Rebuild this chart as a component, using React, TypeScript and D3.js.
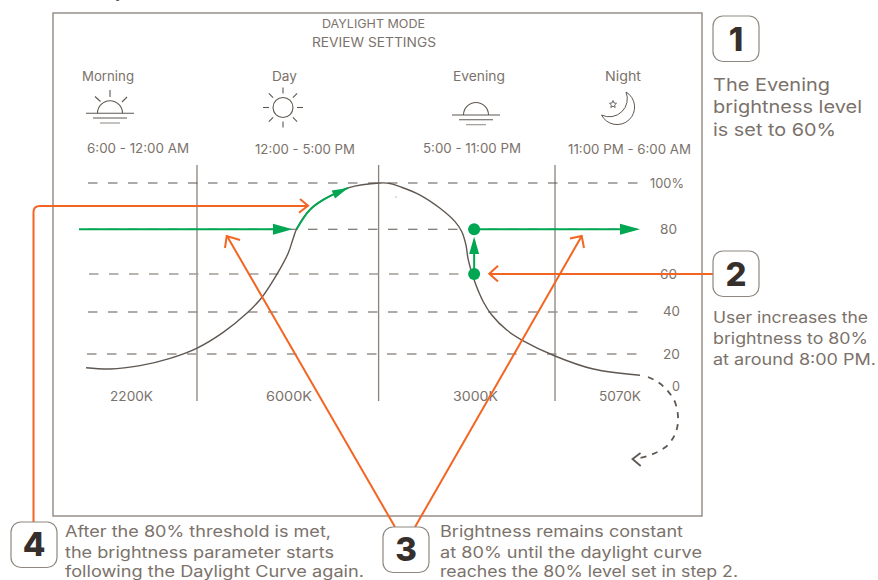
import React from "react";
import * as d3 from "d3";

// ---- data ----
const curveHours = [6.36, 7.58, 9.1, 10.63, 11.98, 12.72, 13.37, 13.78, 14.19, 14.51, 14.65, 14.74, 15.1, 15.47, 16.16, 17.05, 17.39, 17.73, 18.41, 19.09, 19.6, 19.83, 19.97, 20.05, 20.25, 20.56, 20.85, 21.36, 21.92, 23, 26.15, 30];
const curveLevels = [11.4, 10.6, 12.7, 17.3, 22.7, 30.3, 39.4, 47.5, 59.5, 69.3, 76, 80, 88.3, 92.7, 97.9, 100, 99.8, 98.4, 94.8, 89.1, 83.3, 78.9, 73, 66.3, 56.8, 45.4, 38.6, 31.4, 26.3, 18.75, 10.6, 6.7];
const followHours = [14.74, 15.1, 15.47, 16.16];
const followLevels = [80, 88.3, 92.7, 97.9];
const gridLevels = [100, 80, 60, 40, 20];
const tickLabels = ["100%", "80", "60", "40", "20", "0"];
const periodNames = ["Morning", "Day", "Evening", "Night"];
const periodTimes = ["6:00 - 12:00 AM", "12:00 - 5:00 PM", "5:00 - 11:00 PM", "11:00 PM - 6:00 AM"];
const kelvinLabels = ["2200K", "6000K", "3000K", "5070K"];
const periodBoundaries = [12, 17, 23];
const stepOneLines = ["The Evening", "brightness level", "is set to 60%"];
const stepTwoLines = ["User increases the", "brightness to 80%", "at around 8:00 PM."];
const stepThreeLines = ["Brightness remains constant", "at 80% until the daylight curve", "reaches the 80% level set in step 2."];
const stepFourLines = ["After the 80% threshold is met,", "the brightness parameter starts", "following the Daylight Curve again."];

// ---- scales (both axes are unevenly spaced in the reference) ----
const x = d3.scaleLinear().domain([6, 12, 17, 23, 30]).range([79, 197, 378.6, 555, 640]);
const y = d3.scaleLinear().domain([0, 20, 40, 60, 80, 100]).range([386, 354, 312, 274, 229.3, 183]);
const line = d3.line<number>()
  .x((h) => x(h))
  .y((_, i) => y(curveLevels[i]))
  .curve(d3.curveCatmullRom.alpha(0.5));
const followLine = d3.line<number>()
  .x((h) => x(h))
  .y((_, i) => y(followLevels[i]))
  .curve(d3.curveCatmullRom.alpha(0.5));

const INK = "#5f5750";
const TEXT = "#7b726b";
const DARK = "#362f2b";
const FRAME = "#8f8880";
const ORANGE = "#f26522";
const GREEN = "#00a651";
const FONT = "Inter, 'Open Sans', sans-serif";

function T({ x, y, w, s, children, anchor = "start", fill = TEXT, weight = 400 }: any) {
  return (
    <text x={x} y={y} fontSize={s} fill={fill} fontWeight={weight} fontFamily={FONT} textAnchor={anchor}
      textLength={w} lengthAdjust={w ? "spacingAndGlyphs" : undefined}>
      {children}
    </text>
  );
}

function Badge({ x, y, n, by }: any) {
  return (
    <g>
      <rect x={x} y={y} width={46} height={45.5} rx={10} fill="#fff" stroke={FRAME} strokeWidth={1.2} />
      <text x={x + 23} y={by} textAnchor="middle" fontSize={33} fontWeight={800} fill={DARK} fontFamily={FONT}>{n}</text>
    </g>
  );
}

function Horizon({ cx, hy }: any) {
  return (
    <g fill="none" stroke={INK} strokeWidth={1.1}>
      <path d={`M${cx - 12.5},${hy} A12.5,12.5 0 0 1 ${cx + 12.5},${hy}`} />
      <path d={`M${cx - 24},${hy}H${cx + 24}`} />
      <path d={`M${cx - 17},${hy + 4.7}H${cx + 17}`} />
      <path d={`M${cx - 10},${hy + 9.7}H${cx + 10}`} stroke="#98908a" />
    </g>
  );
}

function Arrow({ tip, a, b }: any) {
  return <path d={`M${a[0]},${a[1]}L${tip[0]},${tip[1]}L${b[0]},${b[1]}`} fill="none" stroke={ORANGE} strokeWidth={2} />;
}

export default function App() {
  const dayRays = d3.range(8).map((i) => (i * Math.PI) / 4);
  const levelRows = [188, 234, 279, 316, 359, 391];
  const levelXs = [650, 660, 660, 663, 663, 672];
  const levelWs = [34, 17, 17, 17, 17, 8];
  const gridStart = [88, 88, 89, 88, 87];
  const gridColor = [INK, INK, "#a39c95", "#98908a", "#98908a"];
  const gridWidth = [1.1, 1.1, 1.6, 1.4, 1.4];
  return (
    <svg width={878} height={580} viewBox="0 0 878 580" style={{ position: "absolute", left: 0, top: 0, background: "#fff" }}>
      <text x={115} y={-3.5} fontSize={19} fontWeight={700} fill={DARK} fontFamily={FONT}>p</text>
      <rect x={53} y={13} width={649} height={503} fill="none" stroke={FRAME} strokeWidth={1.4} />

      <T x={322} y={28} w={103} s={11.5}>DAYLIGHT MODE</T>
      <T x={312} y={47} w={124} s={12.5}>REVIEW SETTINGS</T>

      {periodNames.map((p, i) => (
        <T key={p} x={[82, 272, 453, 605][i]} y={81} w={[52, 25, 52, 36][i]} s={13}>{p}</T>
      ))}
      {periodTimes.map((p, i) => (
        <T key={p} x={[87, 255, 423, 568][i]} y={[153, 154, 153, 154][i]} w={[102, 100, 98, 123][i]} s={13}>{p}</T>
      ))}

      {/* icons */}
      <Horizon cx={110} hy={113.3} />
      <g stroke={INK} strokeWidth={1.1} fill="none">
        <path d="M110,90V97M95,96.5L100.5,101.5M127,97L122,102" />
        <circle cx={283} cy={107.5} r={10} />
        {dayRays.map((a) => (
          <line key={a} x1={283 + 14 * Math.cos(a)} y1={107.5 + 14 * Math.sin(a)} x2={283 + 20 * Math.cos(a)} y2={107.5 + 20 * Math.sin(a)} />
        ))}
        <path d="M626,92 A17.5,17.5 0 1 1 601.5,115 A 18,18 0 0 0 626,92 Z" strokeWidth={1} />
        <path d="M613,100.5 L614,103 L616.5,103.3 L614.6,105 L615.2,107.5 L613,106.2 L610.8,107.5 L611.4,105 L609.5,103.3 L612,103 Z" strokeWidth={0.9} />
      </g>
      <Horizon cx={476} hy={115} />

      {/* grid */}
      {periodBoundaries.map((h) => (
        <line key={h} x1={x(h)} x2={x(h)} y1={165} y2={401} stroke="#8a827b" strokeWidth={1.3} />
      ))}
      {gridLevels.map((l, i) => (
        <line key={l} x1={gridStart[i]} x2={640} y1={y(l)} y2={y(l)} stroke={gridColor[i]} strokeWidth={gridWidth[i]} strokeDasharray="9.5 10.5" />
      ))}
      {tickLabels.map((t, i) => (
        <T key={t} x={levelXs[i]} y={levelRows[i]} w={levelWs[i]} s={13}>{t}</T>
      ))}
      {kelvinLabels.map((k, i) => (
        <T key={k} x={[110, 266, 453, 599][i]} y={401} w={[43, 46, 45, 42][i]} s={13}>{k}</T>
      ))}

      {/* daylight curve */}
      <path d={line(curveHours) ?? ""} fill="none" stroke={INK} strokeWidth={1.4} />
      <circle cx={396} cy={197} r={0.5} fill={INK} />
      <path d="M648,377 Q666,384 675,402 Q684,428 667,446 Q655,455 640,458" fill="none" stroke={INK} strokeWidth={1.8} strokeDasharray="6 6" />
      <path d="M640.5,453 L632.5,459 L640.7,466" fill="none" stroke={INK} strokeWidth={1.8} />

      {/* green: held brightness */}
      <g>
        <line x1={x(6)} x2={x(14.3)} y1={y(80)} y2={y(80)} stroke={GREEN} strokeWidth={2} />
        <path d={`M${x(14.63)},${y(80)}L${x(14.63) - 19.5},${y(80) - 5.5}V${y(80) + 5.5}Z`} fill={GREEN} />
        <path d={followLine(followHours) ?? ""} fill="none" stroke={GREEN} strokeWidth={2} />
        <path d="M348,188 L331.7,190.5 L335,198.5 Z" fill={GREEN} />
        <line x1={x(20.25)} x2={x(20.25)} y1={y(60)} y2={y(75)} stroke={GREEN} strokeWidth={2} />
        <path d={`M${x(20.25)},236.7L${x(20.25) - 5},254H${x(20.25) + 5}Z`} fill={GREEN} />
        <line x1={x(20.25)} x2={x(29)} y1={y(80)} y2={y(80)} stroke={GREEN} strokeWidth={2} />
        <path d={`M${x(30)},${y(80)}L${x(30) - 20},${y(80) - 5.5}V${y(80) + 5.5}Z`} fill={GREEN} />
        <circle cx={x(20.25)} cy={y(80)} r={6} fill={GREEN} />
        <circle cx={x(20.25)} cy={y(60)} r={6} fill={GREEN} />
      </g>

      {/* orange leaders */}
      <g fill="none" stroke={ORANGE} strokeWidth={2}>
        <path d="M33.5,522V212Q33.5,206 40,206H307" />
        <path d="M395,527L227,236" />
        <path d="M415,527L581.7,236" />
        <path d="M713,274H490" />
      </g>
      <Arrow tip={[308, 205.8]} a={[300, 199]} b={[299, 212.7]} />
      <Arrow tip={[226.7, 236]} a={[240, 240]} b={[225, 248]} />
      <Arrow tip={[581.7, 236]} a={[570, 238.5]} b={[584, 248]} />
      <Arrow tip={[489.3, 273.8]} a={[498, 265.7]} b={[498, 281.5]} />

      {/* steps */}
      <Badge x={713} y={16} n="1" by={50.5} />
      <Badge x={713} y={251} n="2" by={285.5} />
      <Badge x={383} y={527} n="3" by={561} />
      <Badge x={11} y={522} n="4" by={556} />

      {stepOneLines.map((l, i) => (
        <T key={l} x={713} y={[90.7, 113, 136][i]} w={[117, 149, 123][i]} s={17.5}>{l}</T>
      ))}
      {stepTwoLines.map((l, i) => (
        <T key={l} x={713} y={[323, 344, 365][i]} w={[155, 155, 163][i]} s={15.5}>{l}</T>
      ))}
      {stepThreeLines.map((l, i) => (
        <T key={l} x={440} y={[537, 557.5, 576.7][i]} w={[243, 262, 298][i]} s={15.5}>{l}</T>
      ))}
      {stepFourLines.map((l, i) => (
        <T key={l} x={65} y={[537, 557.5, 576.7][i]} w={[266, 269, 299][i]} s={15.5}>{l}</T>
      ))}
    </svg>
  );
}
